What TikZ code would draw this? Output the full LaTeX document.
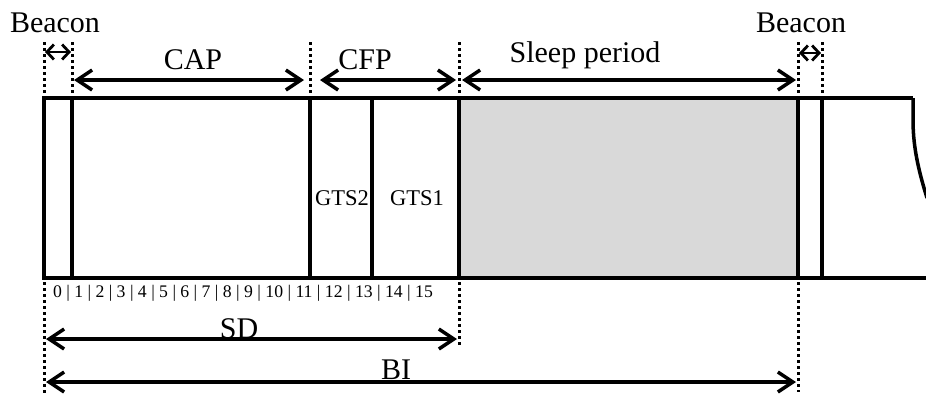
\documentclass[tikz,border=0pt]{standalone}
\usepackage{fontspec}
\setmainfont{Liberation Serif}
\usetikzlibrary{arrows.meta}
\begin{document}
\begin{tikzpicture}[x=1pt,y=-1pt,
  frame/.style={line width=3.5pt},
  dotline/.style={line width=3pt, dash pattern=on 3pt off 3pt},
  bigarrow/.style={line width=3.5pt, {Straight Barb[length=15pt,width=20pt]}-{Straight Barb[length=15pt,width=20pt]}},
  smallarrow/.style={line width=2.8pt, {Straight Barb[length=7pt,width=15pt]}-{Straight Barb[length=7pt,width=15pt]}},
  lbl/.style={font=\fontsize{30}{30}\selectfont, inner sep=0pt},
  gts/.style={font=\fontsize{22.5}{22.5}\selectfont, inner sep=0pt},
  nums/.style={font=\fontsize{17.7}{17.7}\selectfont, inner sep=0pt}]
\useasboundingbox (0,0) rectangle (926,394);
% sleep period fill
\fill[black!15] (459,98) rectangle (798,278);
% dotted guide lines
\draw[dotline] (44,42) -- (44,394);
\draw[dotline] (72,42) -- (72,98);
\draw[dotline] (310,42) -- (310,98);
\draw[dotline] (459,42) -- (459,346);
\draw[dotline] (798,42) -- (798,392);
\draw[dotline] (822,42) -- (822,98);
% frame
\draw[frame] (913,98) -- (44,98) -- (44,278) -- (927,278);
\draw[frame] (913,98) -- (913,120) .. controls (913,150) and (920,175) .. (927,198);
\foreach \xx in {72,310,372,459,798,822}
  \draw[frame] (\xx,98) -- (\xx,278);
% arrow end points
\coordinate (bl1) at (45,52); \coordinate (bl2) at (71,52);
\coordinate (cap1) at (74,80); \coordinate (cap2) at (304,80);
\coordinate (cfp1) at (320,80); \coordinate (cfp2) at (456,80);
\coordinate (sl1) at (462,80); \coordinate (sl2) at (796,80);
\coordinate (br1) at (799,53); \coordinate (br2) at (821,53);
\coordinate (sd1) at (46,339); \coordinate (sd2) at (457,339);
\coordinate (bi1) at (46,382); \coordinate (bi2) at (796,382);
\draw[smallarrow] (bl1) -- (bl2);
\draw[smallarrow] (br1) -- (br2);
\draw[bigarrow] (cap1) -- (cap2);
\draw[bigarrow] (cfp1) -- (cfp2);
\draw[bigarrow] (sl1) -- (sl2);
\draw[bigarrow] (sd1) -- (sd2);
\draw[bigarrow] (bi1) -- (bi2);
% labels
\node[lbl] (beaconL) at (55,23) {Beacon};
\node[lbl] (beaconR) at (801,23) {Beacon};
\node[lbl] (cap) at (193,60) {CAP};
\node[lbl] (cfp) at (365,60) {CFP};
\node[lbl] (sleep) at (585,55) {Sleep period};
\node[lbl] (sd) at (239,329) {SD};
\node[lbl] (bi) at (396,370) {BI};
\node[gts] (gts2) at (342,198) {GTS2};
\node[gts] (gts1) at (417,198) {GTS1};
\node[nums] (slots) at (243,293) {0 | 1 | 2 | 3 | 4 | 5 | 6 | 7 | 8 | 9 | 10 | 11 | 12 | 13 | 14 | 15};
\end{tikzpicture}
\end{document}
